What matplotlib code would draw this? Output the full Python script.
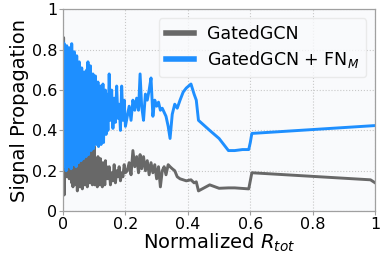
import numpy as np
import matplotlib
matplotlib.use("Agg")
import matplotlib.pyplot as plt

# =========================================================
# DATA
# =========================================================
r_tot = [
    0.000, 0.002, 0.004, 0.006, 0.008, 0.010, 0.012, 0.014, 0.016, 0.018,
    0.020, 0.022, 0.024, 0.026, 0.028, 0.030, 0.032, 0.034, 0.036, 0.038,
    0.040, 0.042, 0.044, 0.046, 0.048, 0.050, 0.052, 0.054, 0.056, 0.058,
    0.060, 0.062, 0.064, 0.066, 0.068, 0.070, 0.072, 0.074, 0.076, 0.078,
    0.080, 0.082, 0.084, 0.086, 0.088, 0.090, 0.092, 0.094, 0.096, 0.098,
    0.100, 0.102, 0.104, 0.106, 0.108, 0.110, 0.112, 0.114, 0.116, 0.118,
    0.120, 0.122, 0.124, 0.126, 0.128, 0.130, 0.132, 0.134, 0.136, 0.138,
    0.140, 0.144, 0.148, 0.152, 0.156, 0.160, 0.164, 0.168, 0.172, 0.176,
    0.180, 0.184, 0.188, 0.192, 0.196, 0.200,
    0.206, 0.212, 0.218, 0.224, 0.230, 0.236, 0.242, 0.247, 0.252, 0.258,
    0.264, 0.270, 0.276, 0.282, 0.288, 0.294, 0.300, 0.306, 0.312, 0.318,
    0.324, 0.330, 0.337, 0.343, 0.350, 0.358, 0.366, 0.375, 0.385, 0.395,
    0.410, 0.420, 0.427, 0.434, 0.470, 0.500, 0.530, 0.550, 0.575, 0.595,
    0.600, 0.605, 0.985, 1.000,
]

gated_gcn = [
    0.24, 0.86, 0.08, 0.25, 0.19, 0.23, 0.17, 0.22, 0.20, 0.24,
    0.16, 0.21, 0.18, 0.24, 0.14, 0.22, 0.12, 0.26, 0.15, 0.22,
    0.27, 0.13, 0.24, 0.10, 0.28, 0.16, 0.22, 0.12, 0.30, 0.18,
    0.26, 0.11, 0.25, 0.15, 0.29, 0.13, 0.33, 0.15, 0.27, 0.12,
    0.34, 0.17, 0.37, 0.14, 0.30, 0.20, 0.35, 0.13, 0.28, 0.18,
    0.32, 0.13, 0.25, 0.16, 0.22, 0.12, 0.27, 0.17, 0.21, 0.13,
    0.26, 0.15, 0.22, 0.12, 0.24, 0.17, 0.21, 0.13, 0.25, 0.16,
    0.22, 0.16, 0.22, 0.13, 0.19, 0.15, 0.23, 0.14, 0.20, 0.17,
    0.22, 0.15, 0.19, 0.17, 0.23, 0.19,
    0.20, 0.24, 0.18, 0.30, 0.22, 0.27, 0.19, 0.28, 0.21, 0.27,
    0.20, 0.25, 0.18, 0.24, 0.19, 0.23, 0.16, 0.22, 0.12, 0.20,
    0.22, 0.18, 0.23, 0.22, 0.21, 0.20, 0.17, 0.16, 0.155, 0.15,
    0.155, 0.14, 0.145, 0.10, 0.13, 0.113, 0.115, 0.115, 0.112, 0.11,
    0.15, 0.19, 0.155, 0.14,
]

gated_gcn_fn = [
    0.84, 0.22, 0.83, 0.25, 0.80, 0.20, 0.82, 0.28, 0.78, 0.22,
    0.81, 0.26, 0.76, 0.21, 0.83, 0.30, 0.74, 0.23, 0.79, 0.27,
    0.72, 0.22, 0.77, 0.33, 0.70, 0.24, 0.74, 0.29, 0.66, 0.25,
    0.71, 0.36, 0.63, 0.26, 0.69, 0.32, 0.62, 0.27, 0.70, 0.35,
    0.74, 0.28, 0.65, 0.38, 0.72, 0.30, 0.64, 0.40, 0.68, 0.31,
    0.61, 0.37, 0.67, 0.33, 0.58, 0.42, 0.64, 0.32, 0.59, 0.44,
    0.62, 0.33, 0.57, 0.45, 0.63, 0.34, 0.55, 0.43, 0.60, 0.38,
    0.58, 0.40, 0.68, 0.45, 0.60, 0.41, 0.56, 0.44, 0.62, 0.46,
    0.53, 0.40, 0.62, 0.45, 0.55, 0.42,
    0.47, 0.52, 0.45, 0.55, 0.50, 0.56, 0.50, 0.68, 0.52, 0.45,
    0.58, 0.55, 0.60, 0.66, 0.47, 0.55, 0.52, 0.54, 0.50, 0.51,
    0.49, 0.47, 0.42, 0.36, 0.48, 0.53, 0.51, 0.55, 0.59, 0.61,
    0.63, 0.58, 0.55, 0.45, 0.40, 0.36, 0.30, 0.30, 0.305, 0.305,
    0.34, 0.385, 0.422, 0.424,
]

x_ticks = [0, 0.2, 0.4, 0.6, 0.8, 1]
x_tick_labels = ["0", "0.2", "0.4", "0.6", "0.8", "1"]
y_ticks = [0, 0.2, 0.4, 0.6, 0.8, 1]
y_tick_labels = ["0", "0.2", "0.4", "0.6", "0.8", "1"]

# =========================================================
# PLOT
# =========================================================
fig = plt.figure(figsize=(3.84, 2.54), dpi=100)
ax = fig.add_axes([0.164, 0.169, 0.813, 0.794])
ax.set_facecolor("#f9fafc")

ax.plot(r_tot, gated_gcn, color="#686868", lw=2.1, label="GatedGCN")
ax.plot(r_tot, gated_gcn_fn, color="#1e8fff", lw=2.1, label="GatedGCN + FN$_M$")

ax.set_xlim(0, 1)
ax.set_ylim(0, 1)
ax.set_xticks(x_ticks)
ax.set_xticklabels(x_tick_labels)
ax.set_yticks(y_ticks)
ax.set_yticklabels(y_tick_labels)
ax.tick_params(length=3, width=0.8, color="#a0a0a0", labelsize=11.5, pad=1)

ax.grid(True, ls=":", color="#c8c8c8", lw=0.8)
ax.set_axisbelow(True)
for s in ax.spines.values():
    s.set_color("#a0a0a0")
    s.set_linewidth(0.9)

ax.set_xlabel("Normalized $R_{tot}$", fontsize=14, labelpad=0)
ax.set_ylabel("Signal Propagation", fontsize=14, labelpad=2)

leg = ax.legend(loc="upper right", fontsize=12.5, frameon=True,
                handlelength=1.6, borderaxespad=0.5, borderpad=0.4,
                labelspacing=0.35)
leg.get_frame().set_edgecolor("#e6e6e6")
leg.get_frame().set_facecolor("#f9fafc")
for line in leg.get_lines():
    line.set_linewidth(4)

plt.savefig("out.png", dpi=100)
plt.close()
